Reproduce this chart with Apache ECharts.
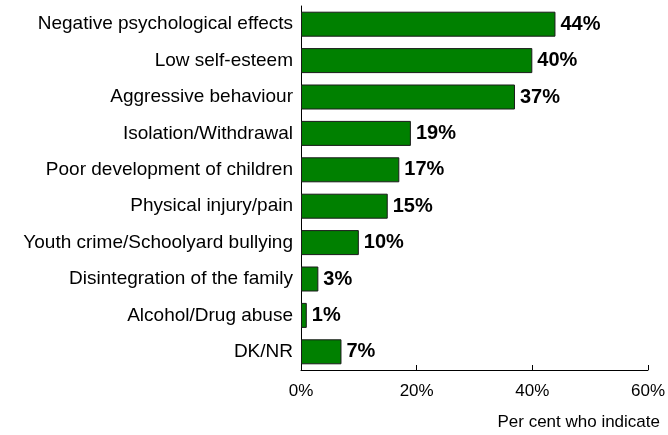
<!DOCTYPE html>
<html>
<head>
<meta charset="utf-8">
<script src="https://cdn.jsdelivr.net/npm/echarts@6/dist/echarts.min.js"></script>
<style>
    html, body { margin: 0; padding: 0; background: #fff; }
    #chart { width: 668px; height: 435px; }
</style>
</head>
<body>
<div id="chart"></div>
<script>
// categories, top to bottom
const categories = [
    "Negative psychological effects",
    "Low self-esteem",
    "Aggressive behaviour",
    "Isolation/Withdrawal",
    "Poor development of children",
    "Physical injury/pain",
    "Youth crime/Schoolyard bullying",
    "Disintegration of the family",
    "Alcohol/Drug abuse",
    "DK/NR"
];
const values = [44, 40, 37, 19, 17, 15, 10, 3, 1, 7];
const xTicks = [0, 20, 40, 60];

const font = "'Liberation Sans', Arial, sans-serif";
const chart = echarts.init(document.getElementById("chart"));

chart.setOption({
    animation: false,
    grid: { left: 301, right: 20, top: 6, bottom: 65 },
    xAxis: {
        type: "value",
        min: xTicks[0],
        max: xTicks[xTicks.length - 1],
        interval: 20,
        name: "Per cent who indicate",
        nameLocation: "end",
        nameGap: 0,
        nameTextStyle: {
            fontFamily: font, fontSize: 17, color: "#000",
            align: "right", verticalAlign: "top", padding: [44, -12, 0, 0]
        },
        axisLine: { show: true, lineStyle: { color: "#000", width: 1 } },
        axisTick: { show: true, inside: true, length: 5, lineStyle: { color: "#000" } },
        splitLine: { show: false },
        axisLabel: {
            fontFamily: font, fontSize: 17, color: "#000", margin: 13,
            formatter: v => v + "%"
        }
    },
    yAxis: {
        type: "category",
        data: categories,
        inverse: true,
        axisLine: { show: true, lineStyle: { color: "#000", width: 1 } },
        axisTick: { show: false },
        axisLabel: { fontFamily: font, fontSize: 19, color: "#000", margin: 8 }
    },
    series: [{
        type: "bar",
        data: values,
        barWidth: 25,
        itemStyle: { color: "#008000", borderColor: "#1a1a1a", borderWidth: 1 },
        label: {
            show: true,
            position: "right",
            distance: 5,
            fontFamily: font,
            fontSize: 20,
            fontWeight: "bold",
            color: "#000",
            formatter: p => p.value + "%"
        }
    }]
});
</script>
</body>
</html>
